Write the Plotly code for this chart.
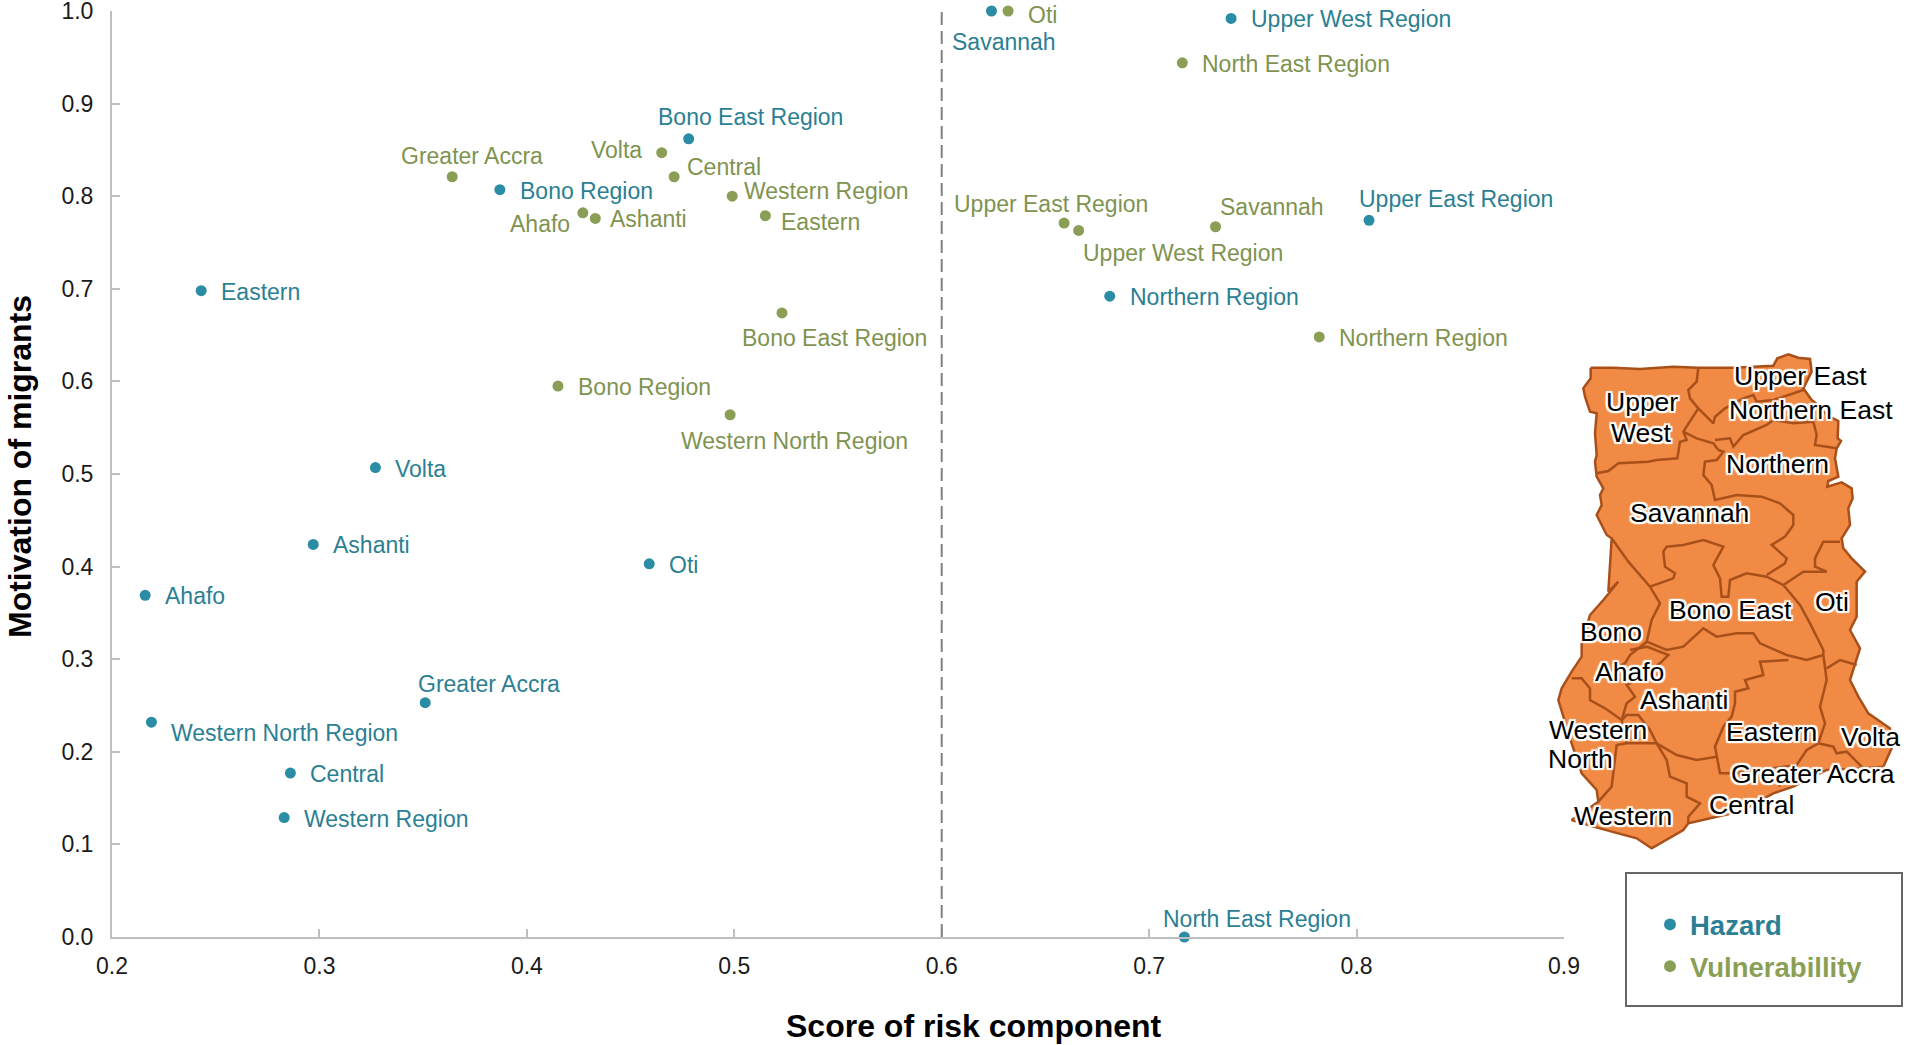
import plotly.graph_objects as go

# values
regions_h = ["Upper West Region", "Savannah", "Upper East Region", "Northern Region", "North East Region",
             "Bono East Region", "Bono Region", "Eastern", "Volta", "Oti", "Ashanti", "Ahafo",
             "Greater Accra", "Western North Region", "Central", "Western Region"]
hazard_x = [0.7395, 0.624, 0.806, 0.681, 0.717, 0.478, 0.387, 0.243, 0.327, 0.459, 0.297, 0.216, 0.351, 0.219, 0.286, 0.283]
hazard_y = [0.992, 1.0, 0.774, 0.692, 0.0, 0.862, 0.807, 0.698, 0.507, 0.403, 0.424, 0.369, 0.253, 0.232, 0.177, 0.129]

regions_v = ["Oti", "North East Region", "Upper East Region", "Upper West Region", "Savannah", "Northern Region",
             "Greater Accra", "Volta", "Central", "Western Region", "Eastern", "Ahafo", "Ashanti",
             "Bono East Region", "Bono Region", "Western North Region"]
vuln_x = [0.632, 0.716, 0.659, 0.666, 0.732, 0.782, 0.364, 0.465, 0.471, 0.499, 0.515, 0.427, 0.433, 0.523, 0.415, 0.498]
vuln_y = [1.0, 0.944, 0.771, 0.763, 0.767, 0.648, 0.821, 0.847, 0.821, 0.800, 0.779, 0.782, 0.776, 0.674, 0.595, 0.564]

x_ticks = [0.2, 0.3, 0.4, 0.5, 0.6, 0.7, 0.8, 0.9]
y_ticks = [0.0, 0.1, 0.2, 0.3, 0.4, 0.5, 0.6, 0.7, 0.8, 0.9, 1.0]

# label placement: anchor, x shift, y shift in px (default is to the right of the point)
RIGHT = ("left", 18, 1)
place_h = {
    "Savannah": ("center", 12, 31), "Upper East Region": ("center", 87, -21),
    "North East Region": ("center", 73, -18), "Bono East Region": ("center", 62, -22),
    "Greater Accra": ("center", 64, -19), "Western North Region": ("left", 18, 11),
}
place_v = {
    "Oti": ("left", 18, 4), "Upper East Region": ("center", -13, -19), "Upper West Region": ("center", 104, 23),
    "Savannah": ("center", 56, -20), "Greater Accra": ("center", 20, -21), "Volta": ("right", -18, -3),
    "Central": ("left", 11, -10), "Western Region": ("left", 10, -5), "Eastern": ("left", 14, 6),
    "Ahafo": ("right", -11, 11), "Ashanti": ("left", 13, 1), "Bono East Region": ("center", 53, 25),
    "Western North Region": ("center", 64, 26),
}

# Ghana map (crop units, 3 per pixel)
outline_x = [152, 220, 300, 400, 475, 580, 700, 712, 745, 775, 810, 815, 790, 815, 840, 860, 895, 893, 903, 890, 885, 895,
             865, 862, 905, 935, 938, 925, 930, 905, 910, 935, 975, 950, 950, 930, 960, 945, 930, 955, 985, 1050, 1055,
             1030, 970, 860, 760, 700, 600, 530, 445, 430, 335, 290, 160, 95, 175, 170, 125, 90, 55, 65, 95, 125, 125,
             150, 190, 235, 205, 215, 200, 170, 185, 180, 190, 170, 165, 170, 165, 170, 150, 135, 130, 152, 152]
outline_y = [68, 68, 72, 65, 68, 68, 62, 40, 28, 38, 42, 80, 130, 165, 185, 210, 228, 280, 288, 310, 340, 395,
             408, 425, 412, 430, 460, 490, 540, 580, 610, 640, 680, 710, 815, 855, 910, 955, 1005, 1055, 1105, 1150, 1210,
             1265, 1270, 1275, 1325, 1345, 1400, 1415, 1435, 1455, 1510, 1480, 1445, 1425, 1370, 1335, 1285, 1180, 1065, 1030,
             980, 935, 895, 810, 765, 710, 740, 580, 570, 510, 480, 450, 430, 395, 350, 330, 265, 205, 200, 155, 130, 100, 68]

borders = [
    [(475, 68), (470, 110), (445, 135), (450, 160), (475, 190), (430, 260), (440, 285), (420, 290), (412, 340), (350, 345),
     (325, 350), (235, 355), (205, 378), (170, 385)],
    [(475, 190), (495, 210), (520, 235), (525, 215), (555, 190), (610, 160), (640, 150), (650, 170), (700, 165), (790, 135)],
    [(430, 260), (470, 280), (520, 295), (535, 315)],
    [(525, 285), (570, 280), (580, 305), (610, 270), (680, 240), (700, 225), (760, 235), (820, 230), (830, 270), (825, 300), (890, 310)],
    [(535, 315), (550, 320), (530, 345), (495, 350), (490, 390), (515, 420), (525, 465), (590, 450), (665, 455), (720, 475),
     (760, 510), (760, 540), (735, 575), (695, 600), (740, 640), (735, 655), (680, 690)],
    [(215, 580), (265, 650), (330, 725), (360, 775), (355, 785), (335, 825), (320, 890)],
    [(330, 725), (400, 700), (405, 685), (375, 665), (370, 620), (380, 605), (430, 600), (490, 585), (550, 605), (520, 660),
     (540, 700), (545, 755), (565, 755), (570, 705), (620, 685), (680, 695), (730, 720), (790, 680), (860, 680), (825, 665),
     (825, 640), (850, 590), (900, 590)],
    [(730, 720), (780, 780), (810, 835), (850, 915), (850, 930)],
    [(320, 890), (380, 915), (430, 905), (490, 850), (530, 875), (590, 865), (640, 865), (660, 895), (740, 930), (800, 945), (850, 930)],
    [(850, 930), (860, 1005), (840, 1085), (855, 1135), (835, 1195), (880, 1205), (890, 1225), (920, 1220), (970, 1270)],
    [(860, 970), (900, 945), (950, 960)],
    [(835, 1195), (800, 1215), (770, 1260), (700, 1270), (650, 1275), (580, 1285), (540, 1285), (530, 1235), (525, 1205),
     (550, 1145), (575, 1115), (585, 1075), (585, 1040), (625, 1030), (615, 1005), (670, 990), (660, 950), (745, 945)],
    [(700, 1270), (720, 1325)],
    [(530, 1235), (470, 1245), (410, 1230), (350, 1195), (330, 1155), (295, 1110), (260, 1110), (245, 1125)],
    [(320, 890), (270, 930), (255, 955), (160, 1005)],
    [(270, 915), (320, 905), (385, 930), (360, 955), (290, 1005), (260, 1020), (285, 1055), (260, 1075), (245, 1125)],
    [(95, 1000), (125, 1000), (150, 1030), (150, 1065), (195, 1090), (245, 1125), (260, 1195)],
    [(350, 1195), (260, 1195), (230, 1200), (225, 1245), (220, 1275), (215, 1325), (175, 1370)],
    [(350, 1195), (380, 1245), (390, 1295), (440, 1315), (440, 1355), (480, 1375), (445, 1415), (445, 1435)],
]
border_x, border_y = [], []
for line in borders:
    border_x += [p[0] for p in line] + [None]
    border_y += [p[1] for p in line] + [None]

map_labels = ["Upper East", "Upper", "West", "Northern East", "Northern", "Savannah", "Bono East", "Oti", "Bono", "Ahafo",
              "Ashanti", "Western", "North", "Eastern", "Volta", "Greater Accra", "Central", "Western"]
map_label_x = [782, 307, 305, 812, 712, 447, 570, 875, 212, 268, 432, 175, 122, 693, 990, 818, 635, 248]
map_label_y = [93, 172, 265, 195, 357, 505, 795, 770, 862, 982, 1065, 1155, 1243, 1160, 1175, 1286, 1380, 1412]

FONT = "Liberation Sans, Arial, sans-serif"
HAZ = "#2a8ca5"
HAZ_TXT = "#2b7f93"
VUL = "#8a9f55"
VUL_TXT = "#7f9350"
AXIS = "#bfbfbf"
W, H = 1906, 1045


def px(x):
    return x / W


def py(y):
    return 1 - y / H


halo = ", ".join(f"{a}px {b}px 1px #fff" for a in (-2, 0, 2) for b in (-2, 0, 2) if a or b)

fig = go.Figure()
fig.add_trace(go.Scatter(x=outline_x, y=outline_y, xaxis="x2", yaxis="y2", mode="lines", fill="toself",
                         fillcolor="#f08a45", line=dict(color="#a9501a", width=2.5), showlegend=False, hoverinfo="skip"))
fig.add_trace(go.Scatter(x=border_x, y=border_y, xaxis="x2", yaxis="y2", mode="lines",
                         line=dict(color="#a9501a", width=2.5), showlegend=False, hoverinfo="skip"))
fig.add_trace(go.Scatter(x=hazard_x, y=hazard_y, mode="markers", name=f'<span style="color:{HAZ_TXT}">Hazard</span>',
                         marker=dict(size=11, color=HAZ), cliponaxis=False, legendgroup="h", hovertext=regions_h))
fig.add_trace(go.Scatter(x=vuln_x, y=vuln_y, mode="markers", name=f'<span style="color:{VUL}">Vulnerabillity</span>',
                         marker=dict(size=11, color=VUL), cliponaxis=False, legendgroup="v", hovertext=regions_v))

for names, xs, ys, place, color in [(regions_h, hazard_x, hazard_y, place_h, HAZ_TXT),
                                    (regions_v, vuln_x, vuln_y, place_v, VUL_TXT)]:
    for name, x, y in zip(names, xs, ys):
        anchor, dx, dy = place.get(name, RIGHT)
        fig.add_annotation(x=x, y=y, text=name, showarrow=False, xanchor=anchor, yanchor="middle", xshift=dx, yshift=-dy,
                           font=dict(family=FONT, size=23, color=color))

for name, x, y in zip(map_labels, map_label_x, map_label_y):
    fig.add_annotation(x=x, y=y, xref="x2", yref="y2", text=name, showarrow=False,
                       font=dict(family=FONT, size=26.5, color="#000000", shadow=halo))

# axis titles sit off the axis centre in the reference, so they are placed by hand
fig.add_annotation(x=px(974), y=py(1026), xref="paper", yref="paper", text="<b>Score of risk component</b>",
                   showarrow=False, xanchor="center", yanchor="middle", font=dict(family=FONT, size=32, color="#000000"))
fig.add_annotation(x=px(20), y=py(467), xref="paper", yref="paper", text="<b>Motivation of migrants</b>", textangle=-90,
                   showarrow=False, xanchor="center", yanchor="middle", font=dict(family=FONT, size=32, color="#000000"))

# dashed divider at 0.6 and the box round the legend
fig.add_shape(type="line", x0=0.6, x1=0.6, y0=0, y1=1.005, xref="x", yref="y",
              line=dict(color="#808080", width=2, dash="13px,6px"))
fig.add_shape(type="rect", xref="paper", yref="paper", x0=px(1626), x1=px(1902), y0=py(1006), y1=py(873),
              line=dict(color="#666666", width=2))

fig.update_layout(
    width=W, height=H, autosize=False, margin=dict(l=0, r=0, t=0, b=0),
    paper_bgcolor="white", plot_bgcolor="rgba(0,0,0,0)", font=dict(family=FONT, color="#1a1a1a"),
    xaxis=dict(domain=[px(112), px(1564)], range=[0.2, 0.9], tickmode="array", tickvals=x_ticks,
               ticktext=[f"{v:.1f}" for v in x_ticks], showgrid=False, automargin=False,
               zeroline=False, showline=True, linecolor=AXIS, linewidth=2, ticks="inside", ticklen=8, tickcolor=AXIS,
               tickwidth=1.5, tickfont=dict(size=23, color="#1a1a1a"), ticklabelstandoff=7, ticklabeloverflow="allow"),
    yaxis=dict(domain=[py(937), py(11)], range=[0, 1], tickmode="array", tickvals=y_ticks,
               ticktext=[f"{v:.1f}" for v in y_ticks], showgrid=False, automargin=False,
               zeroline=False, showline=True, linecolor=AXIS, linewidth=2, ticks="inside", ticklen=8, tickcolor=AXIS,
               tickwidth=1.5, tickfont=dict(size=23, color="#1a1a1a"), ticklabelstandoff=12, ticklabeloverflow="allow"),
    xaxis2=dict(domain=[px(1540), 1], range=[0, 1098], visible=False, anchor="y2", fixedrange=True),
    yaxis2=dict(domain=[0, 700 / H], range=[2100, 0], visible=False, anchor="x2", fixedrange=True),
    legend=dict(x=px(1650), y=py(900), xanchor="left", yanchor="top", bgcolor="rgba(0,0,0,0)", borderwidth=0,
                font=dict(family=FONT, size=27.5, weight="bold"), itemsizing="constant", tracegroupgap=3, itemwidth=30),
)

# drop the page's default body margin so the figure fills the window
fig.write_html("out.html", config={"displayModeBar": False},
               post_script="document.body.style.margin='0';document.documentElement.style.overflow='hidden';")
